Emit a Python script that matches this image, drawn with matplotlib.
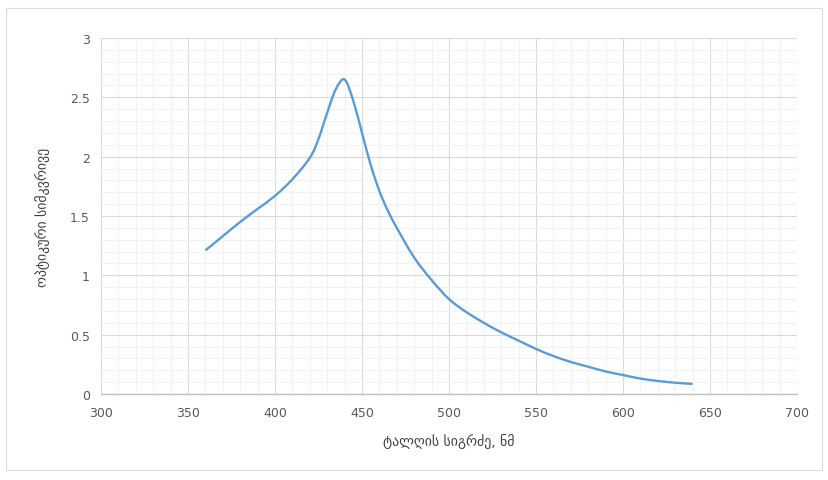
import matplotlib.pyplot as plt
from matplotlib.patches import Rectangle, PathPatch
from matplotlib.path import Path
from matplotlib.ticker import MultipleLocator

wavelength = [360, 370, 380, 390, 400, 410, 420, 425, 430, 435, 440, 445, 450, 455, 460, 465,
              470, 480, 490, 500, 510, 520, 530, 540, 550, 560, 570, 580, 590, 600, 610, 620,
              630, 640]
density = [1.21, 1.33, 1.45, 1.56, 1.67, 1.81, 1.99, 2.15, 2.37, 2.57, 2.65, 2.47, 2.20, 1.93,
           1.71, 1.54, 1.40, 1.15, 0.96, 0.80, 0.69, 0.60, 0.52, 0.45, 0.38, 0.32, 0.27, 0.23,
           0.19, 0.16, 0.13, 0.11, 0.095, 0.085]

x_label = "ტალღის სიგრძე, ნმ"
y_label = "ოპტიკური სიმკვრივე"

plt.rcParams['font.family'] = ['DejaVu Sans']


def smooth_path(xs, ys):
    # Excel-style smoothed line: Catmull-Rom segments drawn as cubic Beziers
    verts = [(xs[0], ys[0])]
    codes = [Path.MOVETO]
    n = len(xs)
    for i in range(n - 1):
        x0, y0 = (xs[i - 1], ys[i - 1]) if i > 0 else (xs[i], ys[i])
        x1, y1 = xs[i], ys[i]
        x2, y2 = xs[i + 1], ys[i + 1]
        x3, y3 = (xs[i + 2], ys[i + 2]) if i + 2 < n else (x2, y2)
        t = 1 / 6
        c1 = (x1 + (x2 - x0) * t, y1 + (y2 - y0) * t)
        c2 = (x2 - (x3 - x1) * t, y2 - (y3 - y1) * t)
        verts += [c1, c2, (x2, y2)]
        codes += [Path.CURVE4] * 3
    return Path(verts, codes)


fig = plt.figure(figsize=(8.29, 4.81), dpi=100)
ax = fig.add_axes([101 / 829, 1 - 395 / 481, 696 / 829, 356 / 481])

ax.add_patch(PathPatch(smooth_path(wavelength, density), facecolor='none',
                       edgecolor='#5B9BD5', linewidth=1.7, capstyle='butt'))

ax.set_xlim(300, 700)
ax.set_ylim(0, 3)
ax.xaxis.set_major_locator(MultipleLocator(50))
ax.xaxis.set_minor_locator(MultipleLocator(10))
ax.yaxis.set_major_locator(MultipleLocator(0.5))
ax.yaxis.set_minor_locator(MultipleLocator(0.1))
ax.set_yticks([0, 0.5, 1, 1.5, 2, 2.5, 3])
ax.set_yticklabels(['0', '0.5', '1', '1.5', '2', '2.5', '3'])

ax.grid(True, which='major', color='#d9d9d9', linewidth=0.8)
ax.grid(True, which='minor', color='#f2f2f2', linewidth=0.8)
ax.set_axisbelow(True)

for side in ['top', 'right', 'left']:
    ax.spines[side].set_visible(False)
ax.spines['bottom'].set_color('#bfbfbf')
ax.spines['bottom'].set_linewidth(1.0)

ax.tick_params(which='both', length=0, colors='#595959', labelsize=9)
ax.tick_params(axis='x', pad=9)
ax.tick_params(axis='y', pad=8)

ax.set_xlabel(x_label, fontsize=10, color='#404040', labelpad=10)
ax.set_ylabel(y_label, fontsize=10, color='#404040', labelpad=14)

fig.patches.append(Rectangle((6 / 829, 1 - 471 / 481), 816 / 829, 462 / 481,
                             transform=fig.transFigure, fill=False,
                             edgecolor='#d9d9d9', linewidth=0.8))

fig.savefig("out.png", dpi=100)
